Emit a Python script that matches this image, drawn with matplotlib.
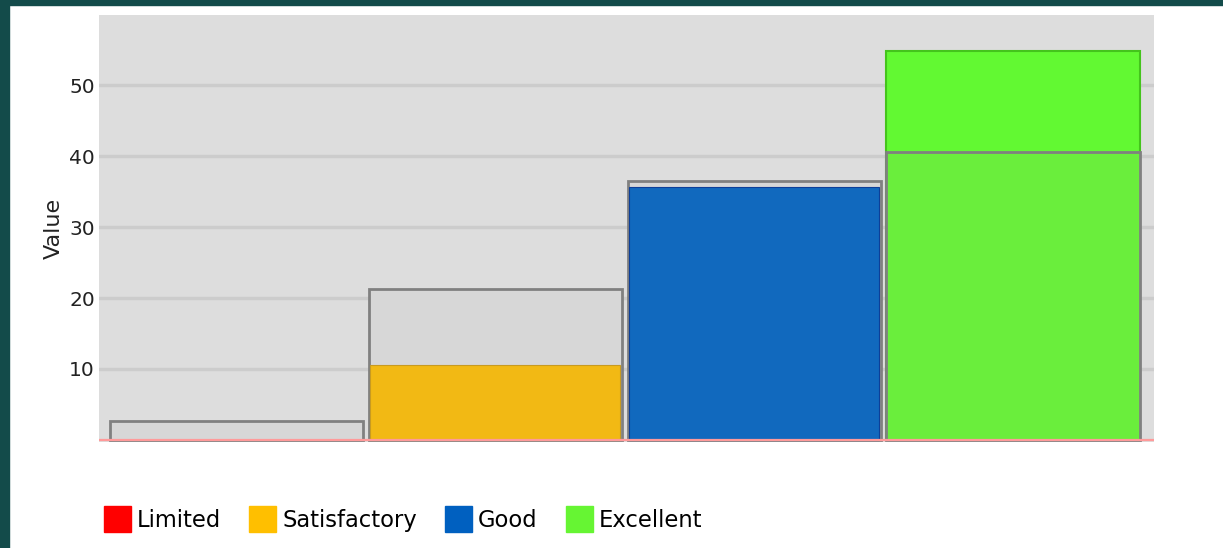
# Bar chart of rating levels drawn over grey "total" bars

import matplotlib.pyplot as plt
from matplotlib.patches import Rectangle, Patch

categories = ['Limited', 'Satisfactory', 'Good', 'Excellent']
level_values = [0, 10.6, 35.6, 54.8]
total_values = [2.7, 21.3, 36.5, 40.6]

legend_colors = ['#ff0000', '#ffbf00', '#0060c0', '#66f533']
bar_colors = ['#ff0000', '#f2b914', '#1169be', '#62f932']
bar_edges = ['#808080', '#c89a20', '#0d3f99', '#44c41c']
total_fills = ['#d7d7d7', '#d7d7d7', '#d7d7d7', '#6aee3c']

W, H = 1223, 548


def main():
    fig = plt.figure(figsize=(W / 100, H / 100), dpi=100)
    fig.patch.set_facecolor('white')

    # dark frame on top and left side
    teal = '#134b4a'
    fig.patches.append(Rectangle((0, 1 - 5 / H), 1, 5 / H, transform=fig.transFigure,
                                 color=teal, zorder=0))
    fig.patches.append(Rectangle((0, 0), 9 / W, 1, transform=fig.transFigure,
                                 color=teal, zorder=0))

    ax = fig.add_axes([99 / W, (H - 442) / H, (1154 - 99) / W, (442 - 15) / H])
    ax.set_facecolor('#dddddd')
    for s in ax.spines.values():
        s.set_visible(False)

    x = list(range(len(categories)))
    width = 0.978

    # the top level bar sits behind its grey outlined bar
    ax.bar(x[3], level_values[3], width=width, color=bar_colors[3],
           edgecolor=bar_edges[3], linewidth=1.5, zorder=2)
    ax.bar(x, total_values, width=width, color=total_fills,
           edgecolor='#808080', linewidth=2, zorder=3)
    for i in range(3):
        if level_values[i] > 0:
            ax.bar(x[i], level_values[i], width=width - 0.012, color=bar_colors[i],
                   edgecolor=bar_edges[i], linewidth=0.8, zorder=4)

    ax.axhline(0, color='#ff9a9a', linewidth=1.6, zorder=5)

    ax.set_xlim(-0.531, 3.545)
    ax.set_ylim(-0.3, 59.9)
    ax.set_yticks([10, 20, 30, 40, 50])
    ax.set_xticks([])
    ax.yaxis.grid(True, color='#cccccc', linewidth=2.5, zorder=0)
    ax.set_axisbelow(True)
    ax.tick_params(axis='y', length=0, pad=3, labelsize=14.5, labelcolor='#222222')
    ax.set_ylabel('Value', fontsize=16, color='#222222', labelpad=4)

    handles = [Patch(facecolor=c, edgecolor=c) for c in legend_colors]
    fig.legend(handles, categories, loc='center left', bbox_to_anchor=(95 / W, 1 - 519 / H),
               ncol=4, frameon=False, fontsize=16.3, handlelength=1.2, handleheight=1.4,
               handletextpad=0.25, columnspacing=1.25, borderaxespad=0)

    plt.savefig('out.png', dpi=100)


if __name__ == '__main__':
    main()
